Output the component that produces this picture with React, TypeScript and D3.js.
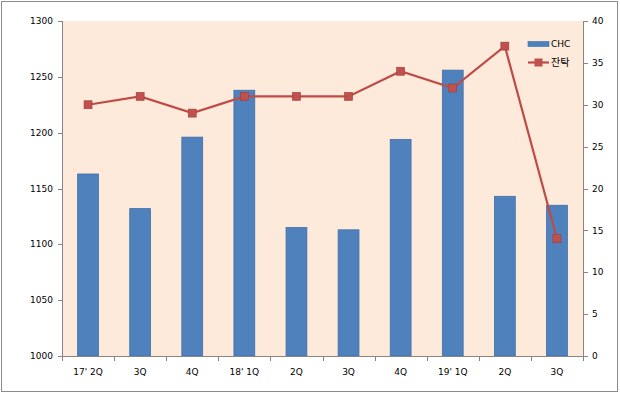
import React from "react";
import * as d3 from "d3";

const categories = ["17' 2Q", "3Q", "4Q", "18' 1Q", "2Q", "3Q", "4Q", "19' 1Q", "2Q", "3Q"];
const chcValues = [1163, 1132, 1196, 1238, 1115, 1113, 1194, 1256, 1143, 1135];
const jantakValues = [30, 31, 29, 31, 31, 31, 34, 32, 37, 14];
const leftTicks = [1000, 1050, 1100, 1150, 1200, 1250, 1300];
const rightTicks = [0, 5, 10, 15, 20, 25, 30, 35, 40];
const seriesNames = ["CHC", "잔탁"];

const W = 620, H = 395;
const left = 62, right = 583, top = 21, bottom = 356;
const font = "'DejaVu Sans', sans-serif";

export default function App() {
  const x = d3.scaleBand<string>().domain(categories.map((_, i) => String(i))).range([left, right]).paddingInner(0.6).paddingOuter(0.3);
  const xb = d3.scaleBand<string>().domain(categories.map((_, i) => String(i))).range([left, right]);
  const yL = d3.scaleLinear().domain([1000, 1300]).range([bottom, top]);
  const yR = d3.scaleLinear().domain([0, 40]).range([bottom, top]);
  const line = d3.line<number>().x((_, i) => xb(String(i))! + xb.bandwidth() / 2).y((d) => yR(d));
  const axisColor = "#868686";
  return (
    <svg width={W} height={H} style={{ position: "absolute", left: 0, top: 0 }}>
      <rect x={0} y={0} width={W} height={H} fill="#ffffff" />
      <rect x={1.5} y={1.5} width={616} height={390} fill="none" stroke="#8c8c8c" strokeWidth={1} />
      <rect x={left} y={top} width={right - left} height={bottom - top} fill="#FDEADA" />
      {chcValues.map((v, i) => (
        <rect key={i} x={x(String(i))} y={yL(v)} width={x.bandwidth()} height={bottom - yL(v)} fill="#4F81BD" stroke="#3F6FA8" strokeWidth={0.8} />
      ))}
      {/* left axis */}
      <line x1={left + 0.5} x2={left + 0.5} y1={top} y2={bottom} stroke={axisColor} />
      {leftTicks.map((t) => (
        <g key={t}>
          <line x1={left - 4} x2={left} y1={Math.round(yL(t)) + 0.5} y2={Math.round(yL(t)) + 0.5} stroke={axisColor} />
          <text x={53} y={yL(t)} dy="0.35em" textAnchor="end" fontFamily={font} fontSize={9} fill="#000">{t}</text>
        </g>
      ))}
      {/* right axis */}
      <line x1={right + 0.5} x2={right + 0.5} y1={top} y2={bottom} stroke={axisColor} />
      {rightTicks.map((t) => (
        <g key={t}>
          <line x1={right} x2={right + 5} y1={Math.round(yR(t)) + 0.5} y2={Math.round(yR(t)) + 0.5} stroke={axisColor} />
          <text x={592} y={yR(t)} dy="0.35em" textAnchor="start" fontFamily={font} fontSize={9} fill="#000">{t}</text>
        </g>
      ))}
      {/* bottom axis */}
      <line x1={left} x2={right + 1} y1={bottom + 0.5} y2={bottom + 0.5} stroke={axisColor} />
      {categories.map((_, i) => (
        <line key={"t" + i} x1={Math.round(xb(String(i))!) + 0.5} x2={Math.round(xb(String(i))!) + 0.5} y1={bottom} y2={bottom + 5} stroke={axisColor} />
      ))}
      <line x1={right + 0.5} x2={right + 0.5} y1={bottom} y2={bottom + 5} stroke={axisColor} />
      {categories.map((c, i) => (
        <text key={"l" + i} x={xb(String(i))! + xb.bandwidth() / 2} y={372} dy="0.35em" textAnchor="middle" fontFamily={font} fontSize={9} fill="#000">{c}</text>
      ))}
      {/* line series */}
      <path d={line(jantakValues) || ""} fill="none" stroke="#BE4B48" strokeWidth={2.2} />
      {jantakValues.map((v, i) => (
        <rect key={"m" + i} x={xb(String(i))! + xb.bandwidth() / 2 - 4} y={yR(v) - 4} width={8} height={8} fill="#C0504D" stroke="#A33D3A" strokeWidth={0.6} />
      ))}
      {/* legend */}
      <rect x={528} y={41.5} width={21} height={5} fill="#4F81BD" stroke="#3F6FA8" strokeWidth={0.6} />
      <text x={551} y={44} dy="0.35em" fontFamily={font} fontSize={9} fill="#000">{seriesNames[0]}</text>
      <line x1={528} x2={549} y1={62.5} y2={62.5} stroke="#BE4B48" strokeWidth={2.2} />
      <rect x={534.5} y={58.5} width={8} height={8} fill="#C0504D" />
      <text x={551} y={62.5} dy="0.35em" fontFamily="'Noto Sans CJK KR', sans-serif" fontSize={10} fill="#000">{seriesNames[1]}</text>
    </svg>
  );
}
